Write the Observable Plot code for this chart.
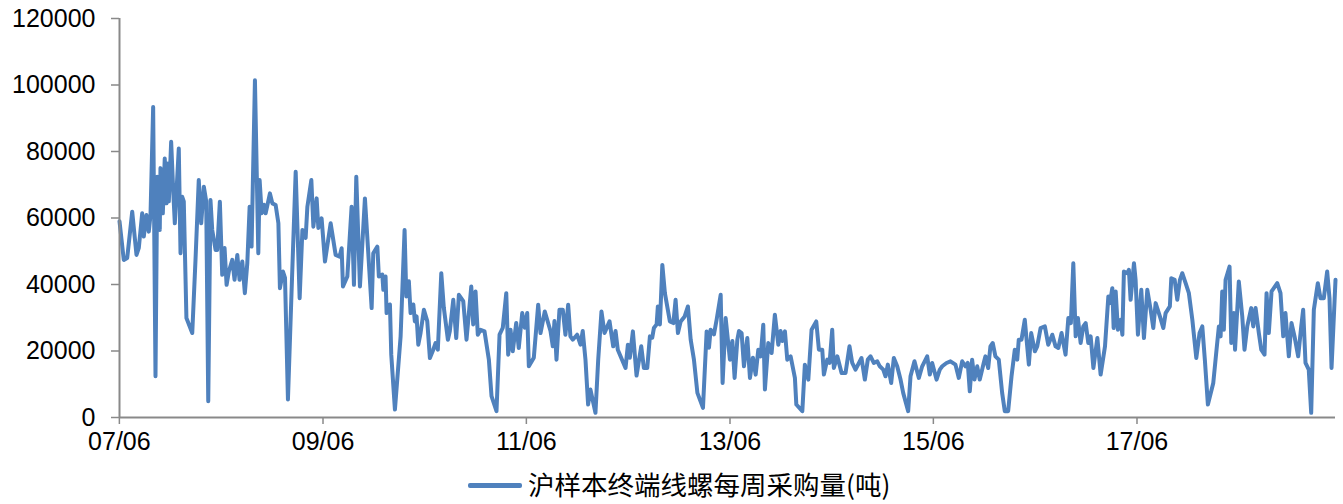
<!DOCTYPE html>
<html><head><meta charset="utf-8">
<script src="https://cdn.jsdelivr.net/npm/d3@7"></script>
<script src="https://cdn.jsdelivr.net/npm/@observablehq/plot@0.6"></script>
<style>
body{margin:0;background:#fff;}
#wrap{width:1343px;height:504px;position:relative;overflow:hidden;}
#legend{position:absolute;left:0;top:455px;width:1343px;height:49px;}
#legend .sw{position:absolute;left:468px;top:28px;width:54px;height:5px;background:#4F81BD;border-radius:2px;}
#legend .tx{position:absolute;left:528px;top:11px;font-family:"Noto Sans CJK SC",sans-serif;font-size:26.5px;line-height:36px;color:#000;white-space:nowrap;}
</style></head><body>
<div id="wrap"><div id="chart"></div>
<div id="legend"><div class="sw"></div><div class="tx"></div></div></div>
<script>
const seriesName = "沪样本终端线螺每周采购量(吨)";
const yTicks = [0,20000,40000,60000,80000,100000,120000];
const xTickLabels = ["07/06","09/06","11/06","13/06","15/06","17/06"];
// decimal-year positions of the readings
const years = [2007.415,2007.457,2007.491,2007.540,2007.582,2007.605,2007.638,2007.654,2007.680,2007.703,2007.720,2007.746,2007.769,2007.786,2007.811,2007.818,2007.841,2007.860,2007.877,2007.890,2007.900,2007.923,2007.943,2007.959,2007.998,2008.015,2008.031,2008.047,2008.073,2008.130,2008.162,2008.194,2008.218,2008.244,2008.267,2008.287,2008.309,2008.326,2008.359,2008.375,2008.401,2008.424,2008.447,2008.467,2008.489,2008.523,2008.545,2008.572,2008.594,2008.621,2008.646,2008.670,2008.693,2008.712,2008.745,2008.778,2008.791,2008.811,2008.833,2008.850,2008.892,2008.916,2008.948,2008.975,2008.990,2009.020,2009.040,2009.069,2009.105,2009.145,2009.184,2009.211,2009.243,2009.260,2009.299,2009.319,2009.351,2009.368,2009.400,2009.433,2009.489,2009.538,2009.577,2009.597,2009.610,2009.653,2009.695,2009.718,2009.741,2009.777,2009.826,2009.892,2009.908,2009.948,2009.963,2009.997,2010.007,2010.029,2010.039,2010.072,2010.085,2010.121,2010.177,2010.216,2010.233,2010.258,2010.275,2010.302,2010.317,2010.334,2010.351,2010.373,2010.406,2010.439,2010.465,2010.498,2010.521,2010.543,2010.577,2010.602,2010.642,2010.661,2010.695,2010.724,2010.750,2010.793,2010.825,2010.872,2010.891,2010.914,2010.936,2010.963,2011.002,2011.045,2011.071,2011.120,2011.150,2011.182,2011.216,2011.235,2011.258,2011.280,2011.314,2011.339,2011.373,2011.398,2011.422,2011.438,2011.487,2011.530,2011.553,2011.595,2011.651,2011.674,2011.690,2011.710,2011.739,2011.772,2011.798,2011.825,2011.847,2011.870,2011.913,2011.946,2011.968,2011.995,2012.021,2012.044,2012.093,2012.120,2012.152,2012.182,2012.231,2012.267,2012.290,2012.312,2012.388,2012.411,2012.430,2012.460,2012.496,2012.542,2012.568,2012.601,2012.627,2012.650,2012.666,2012.693,2012.705,2012.725,2012.749,2012.774,2012.823,2012.857,2012.879,2012.902,2012.929,2012.968,2013.000,2013.027,2013.059,2013.093,2013.148,2013.184,2013.207,2013.223,2013.256,2013.282,2013.322,2013.341,2013.371,2013.413,2013.437,2013.459,2013.486,2013.502,2013.528,2013.551,2013.584,2013.610,2013.639,2013.666,2013.692,2013.715,2013.741,2013.757,2013.790,2013.823,2013.855,2013.889,2013.911,2013.928,2013.954,2013.977,2014.010,2014.052,2014.066,2014.125,2014.150,2014.184,2014.216,2014.262,2014.288,2014.321,2014.337,2014.370,2014.393,2014.419,2014.435,2014.469,2014.511,2014.550,2014.589,2014.616,2014.648,2014.707,2014.740,2014.769,2014.796,2014.828,2014.862,2014.887,2014.921,2014.943,2014.966,2014.999,2015.025,2015.058,2015.091,2015.117,2015.166,2015.189,2015.228,2015.271,2015.304,2015.353,2015.379,2015.402,2015.445,2015.477,2015.501,2015.543,2015.582,2015.631,2015.664,2015.697,2015.730,2015.752,2015.772,2015.795,2015.818,2015.845,2015.870,2015.909,2015.926,2015.953,2015.975,2015.998,2016.024,2016.057,2016.090,2016.116,2016.149,2016.182,2016.214,2016.238,2016.253,2016.280,2016.312,2016.352,2016.375,2016.411,2016.434,2016.467,2016.509,2016.542,2016.582,2016.614,2016.641,2016.673,2016.712,2016.739,2016.764,2016.788,2016.811,2016.833,2016.860,2016.886,2016.909,2016.935,2016.958,2016.985,2017.024,2017.056,2017.099,2017.132,2017.148,2017.171,2017.184,2017.204,2017.226,2017.253,2017.270,2017.285,2017.319,2017.334,2017.351,2017.384,2017.400,2017.423,2017.456,2017.482,2017.515,2017.548,2017.574,2017.597,2017.639,2017.673,2017.695,2017.737,2017.751,2017.784,2017.810,2017.836,2017.859,2017.892,2017.924,2017.958,2017.997,2018.029,2018.056,2018.081,2018.111,2018.164,2018.196,2018.219,2018.236,2018.252,2018.268,2018.285,2018.324,2018.341,2018.366,2018.378,2018.415,2018.449,2018.471,2018.498,2018.537,2018.557,2018.580,2018.612,2018.636,2018.668,2018.688,2018.710,2018.737,2018.793,2018.825,2018.852,2018.874,2018.907,2018.933,2018.963,2018.999,2019.029,2019.048,2019.071,2019.103,2019.127,2019.153,2019.192,2019.218,2019.251,2019.284,2019.307,2019.327,2019.366];
const tons = [59000,47400,48000,61900,48900,51000,61400,54400,60900,55900,60900,93400,12400,72400,56400,75000,61400,77900,64400,76400,65000,82900,68400,58400,80900,49400,66400,65000,29900,25400,47400,71400,58400,69400,65000,4900,65400,56400,50400,50400,64900,42900,51000,39900,43900,47400,41400,48900,41400,46900,37400,46400,63400,51400,101400,49400,71400,61400,64000,61400,67400,64400,63900,58400,38900,43900,42000,5400,38400,73900,35900,56400,54000,63400,71400,57400,65900,57000,59900,46900,58400,48900,48400,50900,39400,42400,63400,39900,72400,39400,65900,32900,49400,51400,42400,43000,38400,42400,31400,34000,18900,2400,24400,56400,36400,41000,31400,34000,28900,30400,21900,25400,32400,29000,17900,20400,22400,20400,43400,33000,23400,26000,35400,23900,36900,35000,23400,39400,28000,37900,24900,26400,25900,17400,6400,1900,24900,27000,37400,18900,26400,19900,28400,20900,31400,27000,31400,15400,18000,33900,25400,31900,26000,21400,29000,17400,32400,32400,24900,33900,24400,23400,24900,21900,26000,17400,3900,8400,1400,17400,31900,25400,28900,21400,26000,20400,14900,21900,18000,25900,12600,21400,14900,14900,24400,24000,26900,28000,33400,28000,45900,37400,28900,28400,35400,25400,28900,30400,33400,23400,17400,7400,2900,25900,21000,26400,25000,29400,36900,10400,29900,17400,23000,11900,23400,26000,25400,15400,23900,11900,18000,12900,20400,18400,27900,8400,22400,19400,30900,21900,26000,23000,25900,17400,18400,11900,3900,1900,15900,11400,26400,28900,20400,20400,12900,17400,16400,26400,14900,18400,13400,13400,21400,16400,14400,17900,11400,17400,18400,16400,16900,15400,14400,12400,15900,10400,17900,15400,11400,7400,1900,12400,16900,11900,15400,18400,12900,16400,11400,14400,15400,16400,16900,15900,11900,16900,15400,16400,7900,17400,11400,15400,11400,16400,18400,14900,21400,22400,18400,17400,7400,1900,1900,12400,20400,17400,23400,23400,29400,15900,25400,19900,21400,26900,27400,21900,24900,21400,20900,25400,18900,29900,28400,46400,24400,29900,22400,27400,28400,22400,24400,14900,23900,12900,21400,36400,34400,38900,26900,37900,26400,29400,24900,43900,43400,44400,35400,46400,41400,24900,38400,23900,38400,32400,26900,34400,30400,26900,31400,33400,41900,41400,35400,41400,43400,40400,37400,29400,17900,25400,27400,17400,3900,10400,20400,27400,24400,37900,26400,41400,45400,22400,31400,20400,40900,30400,20400,27400,32900,27400,32900,25400,20400,18900,37400,25400,37900,40400,37400,24400,31400,18400,28400,24400,18400,27400,32400,16400,14400,1400,32400,40400,35900,35900,43900,35900,14900,41400];

function yearToDate(y){
  const yr = Math.floor(y);
  const a = Date.UTC(yr,0,1), b = Date.UTC(yr+1,0,1);
  return new Date(a + (y-yr)*(b-a));
}
const data = years.map((y,i)=>({date: yearToDate(y), value: tons[i]}));
const xTicks = xTickLabels.map(s => new Date(Date.UTC(2000+ +s.slice(0,2), +s.slice(3)-1, 1)));
const labelOf = new Map(xTicks.map((d,i)=>[+d, xTickLabels[i]]));
const x0 = data[0].date, x1 = data[data.length-1].date;
const gray = "#898989";
const chart = Plot.plot({
  width: 1343, height: 455,
  marginLeft: 119, marginRight: 8, marginTop: 18, marginBottom: 38,
  style: {fontFamily: "'Liberation Sans', Arial, sans-serif", fontSize: "25px", color: "#000", background: "#fff"},
  x: {type: "utc", domain: [x0, x1]},
  y: {domain: [0, 120000]},
  marks: [
    Plot.axisY({ticks: yTicks, tickSize: 8, tickPadding: 16, stroke: gray, strokeWidth: 1.5, fill: "#000", fontSize: 25, tickFormat: d3.format("d"), label: null}),
    Plot.axisX({ticks: xTicks, tickSize: 7, tickPadding: 8, stroke: gray, strokeWidth: 1.5, fill: "#000", fontSize: 25, tickFormat: d => labelOf.get(+d), label: null}),
    Plot.line(data, {x: "date", y: "value", stroke: "#4F81BD", strokeWidth: 4, strokeLinejoin: "round", strokeLinecap: "round"}),
    Plot.ruleX([x0], {stroke: gray, strokeWidth: 2}),
    Plot.ruleY([0], {stroke: gray, strokeWidth: 2})
  ]
});
document.getElementById("chart").appendChild(chart);
document.querySelector("#legend .tx").textContent = seriesName;
</script>
</body></html>
